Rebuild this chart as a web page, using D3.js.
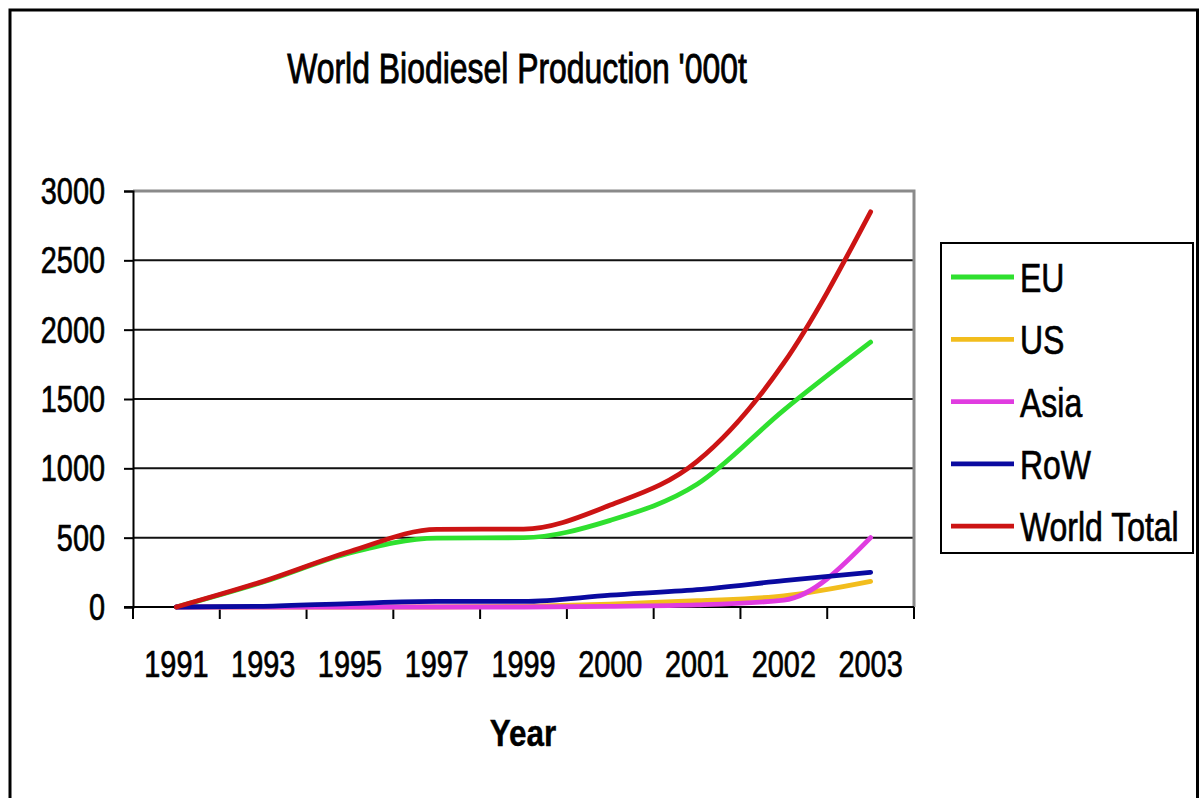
<!DOCTYPE html>
<html>
<head>
<meta charset="utf-8">
<script src="https://cdn.jsdelivr.net/npm/d3@7"></script>
<style>
  html, body { margin: 0; padding: 0; background: #ffffff; }
  svg { display: block; font-family: "Liberation Sans", Arial, sans-serif; }
</style>
</head>
<body>
<svg id="chart" width="1202" height="798"></svg>
<script>
// ---- data ('000 t) ----
const years = ["1991", "1993", "1995", "1997", "1999", "2000", "2001", "2002", "2003"];
const eu         = [0, 180, 390, 497, 500, 625, 885, 1420, 1910];
const us         = [0, 0, 0, 0, 5, 20, 45, 80, 185];
const asia       = [0, 0, 0, 0, 0, 5, 15, 50, 500];
const row        = [0, 5, 25, 40, 40, 85, 125, 190, 250];
const worldTotal = [0, 185, 400, 560, 562, 735, 1050, 1760, 2850];
const seriesNames = ["EU", "US", "Asia", "RoW", "World Total"];
const seriesColors = ["#2fe02f", "#f2bd1d", "#e03ce0", "#0a0aa0", "#cc1414"];
const yTicks = [0, 500, 1000, 1500, 2000, 2500, 3000];
const chartTitle = "World Biodiesel Production '000t";
const xTitle = "Year";

const seriesValues = [eu, us, asia, row, worldTotal];

const svg = d3.select("#chart");
const SX = 0.78; // horizontal squeeze of the original picture's lettering

// outer frame
svg.append("rect")
  .attr("x", 10).attr("y", 10).attr("width", 1187.5).attr("height", 800)
  .attr("fill", "#fff").attr("stroke", "#000").attr("stroke-width", 3);

const plot = { left: 133, right: 914, top: 191, bottom: 607 };

const x = d3.scaleBand().domain(years).range([plot.left, plot.right]).padding(0);
const y = d3.scaleLinear().domain([0, 3000]).range([plot.bottom, plot.top]);

function squeezedText(g, tx, ty, str, size, anchor, weight, sx, sw) {
  return g.append("text")
    .attr("transform", `translate(${tx},${ty}) scale(${sx},1)`)
    .attr("text-anchor", anchor)
    .attr("font-size", size)
    .attr("font-weight", weight || "normal")
    .attr("fill", "#000")
    .attr("stroke", "#000")
    .attr("stroke-width", sw === undefined ? 0.7 : sw)
    .text(str);
}

// gridlines
const grid = svg.append("g");
grid.selectAll("line").data(yTicks.filter(d => d > 0 && d < 3000)).join("line")
  .attr("x1", plot.left).attr("x2", plot.right)
  .attr("y1", d => y(d)).attr("y2", d => y(d))
  .attr("stroke", "#111").attr("stroke-width", 2);

// plot area border top/right (grey)
svg.append("path")
  .attr("d", `M${plot.left},${y(3000)}H${plot.right}V${plot.bottom}`)
  .attr("fill", "none").attr("stroke", "#8a8a8a").attr("stroke-width", 3);

// y axis
const yAxis = d3.axisLeft(y).tickValues(yTicks).tickSize(9).tickFormat("");
const yG = svg.append("g").attr("transform", `translate(${plot.left},0)`).call(yAxis);
yG.select(".domain").attr("stroke", "#000").attr("stroke-width", 2);
yG.selectAll(".tick line").attr("stroke", "#000").attr("stroke-width", 2);
yTicks.forEach(v => {
  squeezedText(svg, 105, y(v) + 13, String(v), 37, "end", "normal", SX);
});

// x axis: ticks between categories
const xAxis = d3.axisBottom(x).tickSize(0).tickFormat("");
const xG = svg.append("g").attr("transform", `translate(0,${plot.bottom})`).call(xAxis);
xG.select(".domain").remove();
svg.append("line")
  .attr("x1", plot.left - 9).attr("x2", plot.right)
  .attr("y1", plot.bottom).attr("y2", plot.bottom)
  .attr("stroke", "#000").attr("stroke-width", 2);
const boundaries = years.map(d => x(d)).concat([x(years[years.length - 1]) + x.bandwidth()]);
svg.append("g").selectAll("line").data(boundaries).join("line")
  .attr("x1", d => d).attr("x2", d => d)
  .attr("y1", plot.bottom).attr("y2", plot.bottom + 12)
  .attr("stroke", "#000").attr("stroke-width", 2);
years.forEach(yr => {
  squeezedText(svg, x(yr) + x.bandwidth() / 2, 677, yr, 37, "middle", "normal", SX);
});

// series lines
const line = d3.line()
  .x((d, i) => x(years[i]) + x.bandwidth() / 2)
  .y(d => y(d))
  .curve(d3.curveMonotoneX);

svg.append("g").selectAll("path").data(seriesValues).join("path")
  .attr("d", d => line(d))
  .attr("fill", "none")
  .attr("stroke", (d, i) => seriesColors[i])
  .attr("stroke-width", 4.8)
  .attr("stroke-linejoin", "round")
  .attr("stroke-linecap", "round");

// title
squeezedText(svg, 517, 83, chartTitle, 42, "middle", "normal", 0.76, 0.9);

// x axis title
squeezedText(svg, 523, 746, xTitle, 37, "middle", "bold", 0.85, 0.4);

// legend
const lg = svg.append("g");
lg.append("rect")
  .attr("x", 941).attr("y", 243).attr("width", 252).attr("height", 310)
  .attr("fill", "#fff").attr("stroke", "#000").attr("stroke-width", 2);
seriesNames.forEach((name, i) => {
  const cy = 277 + i * 62.3;
  lg.append("line")
    .attr("x1", 951).attr("x2", 1014).attr("y1", cy).attr("y2", cy)
    .attr("stroke", seriesColors[i]).attr("stroke-width", 4.8);
  squeezedText(lg, 1020, cy + 15, name, 41, "start", "normal", 0.78);
});
</script>
</body>
</html>
